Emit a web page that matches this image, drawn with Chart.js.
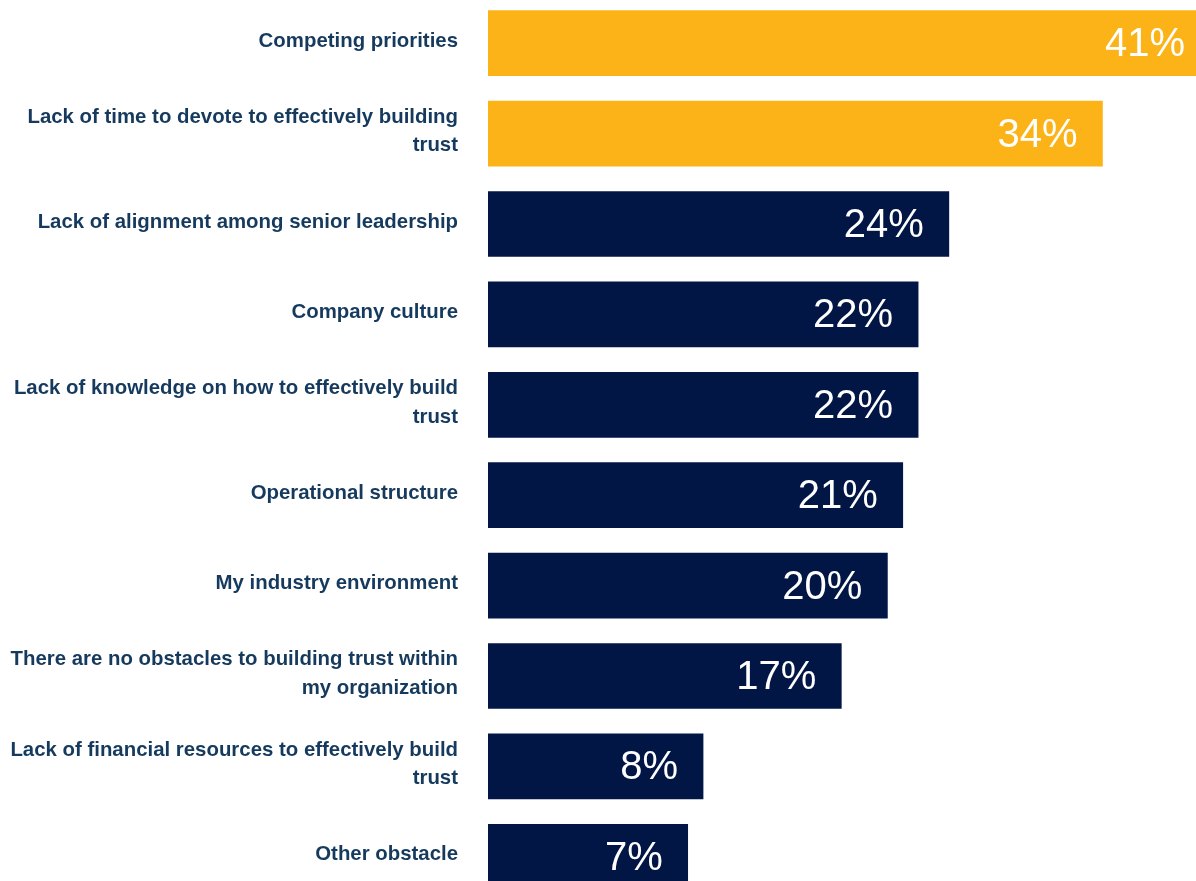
<!DOCTYPE html>
<html>
<head>
<meta charset="utf-8">
<title>Obstacles to building trust</title>
<script src="https://cdn.jsdelivr.net/npm/chart.js@4.4.1/dist/chart.umd.min.js"></script>
<style>
  html, body { margin: 0; padding: 0; background: #ffffff; overflow: hidden; width: 1196px; height: 881px; }
  #wrap { position: absolute; left: 0; top: -2px; width: 1210px; height: 904px; }
</style>
</head>
<body>
<div id="wrap"><canvas id="chart"></canvas></div>
<script>
// Obstacles, top to bottom; long names are broken into two lines
const categories = [
  ['Competing priorities'],
  ['Lack of time to devote to effectively building', 'trust'],
  ['Lack of alignment among senior leadership'],
  ['Company culture'],
  ['Lack of knowledge on how to effectively build', 'trust'],
  ['Operational structure'],
  ['My industry environment'],
  ['There are no obstacles to building trust within', 'my organization'],
  ['Lack of financial resources to effectively build', 'trust'],
  ['Other obstacle']
];

// Share of respondents (%)
const shares = [41, 34, 24, 22, 22, 21, 20, 17, 8, 7];

// The two leading obstacles are highlighted
const highlighted = [true, true, false, false, false, false, false, false, false, false];

const GOLD = '#FCB317';
const NAVY = '#021646';
const LABEL = '#163A5E';
const AXIS_START = -6;

// White percentage written inside the right end of each bar
const valueLabels = {
  id: 'valueLabels',
  afterDatasetsDraw(chart) {
    const ctx = chart.ctx;
    const meta = chart.getDatasetMeta(0);
    ctx.save();
    ctx.fillStyle = '#ffffff';
    ctx.font = '40px "Liberation Sans", Arial, Helvetica, sans-serif';
    ctx.textAlign = 'right';
    ctx.textBaseline = 'middle';
    meta.data.forEach((bar, i) => {
      ctx.fillText(shares[i] + '%', bar.x - 25, bar.y + 2);
    });
    ctx.restore();
  }
};

new Chart(document.getElementById('chart'), {
  type: 'bar',
  data: {
    labels: categories,
    datasets: [{
      data: shares,
      base: AXIS_START,
      backgroundColor: highlighted.map(h => h ? GOLD : NAVY),
      borderWidth: 0,
      barThickness: 65
    }]
  },
  options: {
    indexAxis: 'y',
    responsive: true,
    maintainAspectRatio: false,
    animation: false,
    layout: { padding: 0 },
    plugins: {
      legend: { display: false },
      tooltip: { enabled: false }
    },
    scales: {
      x: {
        display: false,
        min: AXIS_START,
        max: 41
      },
      y: {
        grid: { display: false, drawTicks: false },
        border: { display: false },
        afterFit(scale) {
          // fixed label column; labels sit inside their bands, so no extra edge padding
          scale.width = 488;
          scale.paddingTop = 0;
          scale.paddingBottom = 0;
        },
        ticks: {
          color: LABEL,
          padding: 30,
          labelOffset: -2,
          autoSkip: false,
          font: {
            family: '"Liberation Sans", Arial, Helvetica, sans-serif',
            size: 20.4,
            weight: 'bold',
            lineHeight: 1.39
          }
        }
      }
    }
  },
  plugins: [valueLabels]
});
</script>
</body>
</html>
